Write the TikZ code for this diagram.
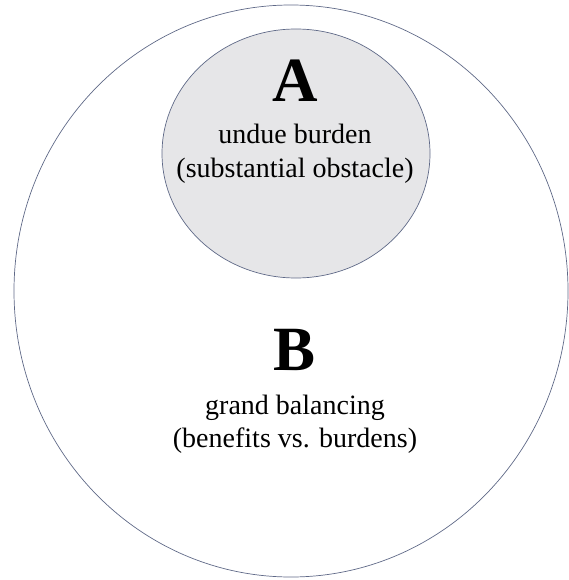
\documentclass[tikz,border=0pt]{standalone}
\usepackage{fontspec}
\setmainfont{Liberation Serif}
\usetikzlibrary{shapes.geometric, positioning}
\definecolor{rimblue}{RGB}{95,105,135}
\definecolor{innergray}{RGB}{230,230,232}
\tikzset{
    % outer and inner regions
    region/.style = {ellipse, draw=rimblue, line width=0.7pt, inner sep=0pt},
    letter/.style = {font=\fontsize{63}{63}\selectfont\bfseries, inner sep=0pt, anchor=base},
    caption/.style = {font=\fontsize{28}{33}\selectfont, align=center, inner sep=0pt, anchor=base}
}

\begin{document}
\begin{tikzpicture}[x=1pt, y=-1pt]

\useasboundingbox (0,0) rectangle (569,580);

% Regions
\node[region, minimum width=554pt, minimum height=572pt] (outer) at (291,291) {};
\node[region, fill=innergray, minimum width=268pt, minimum height=249pt] (inner) at (296,153.5) {};

% Labels (caption base = last line)
\node[letter] (letterA) at (295,102) {A};
\node[caption] (textA) at (295,177) {undue burden\\(substantial obstacle)};
\node[letter] (letterB) at (295,370) {B};
\node[caption] (textB) at (295,447) {grand balancing\\(benefits vs. burdens)};

\end{tikzpicture}
\end{document}
